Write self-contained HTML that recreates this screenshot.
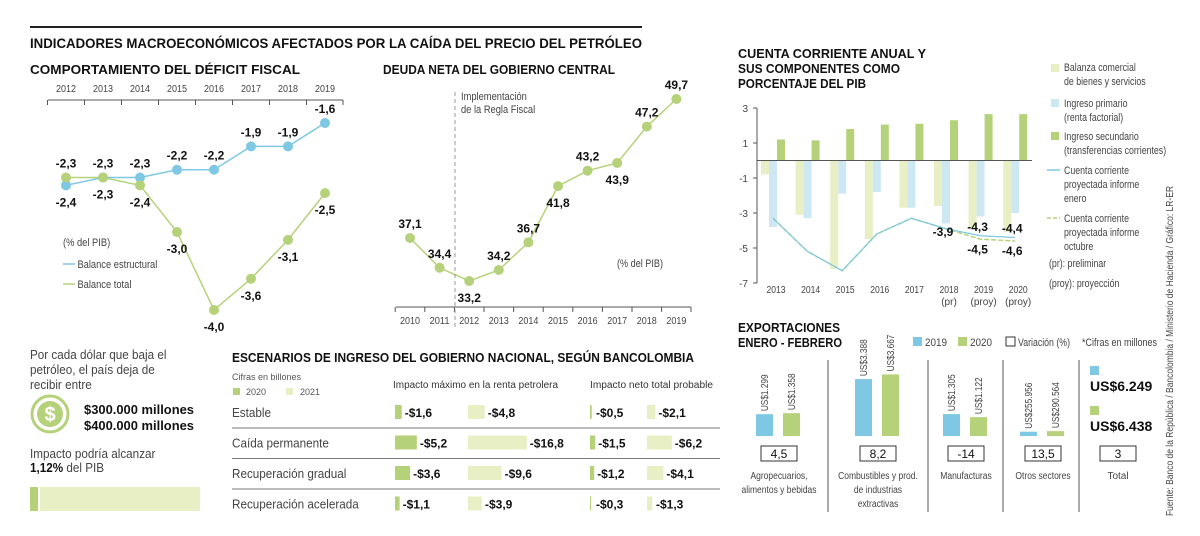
<!DOCTYPE html>
<html><head><meta charset="utf-8"><style>
body{margin:0;background:#fff;}
svg{display:block;font-family:"Liberation Sans",sans-serif;}
.t{font-weight:bold;font-size:13px;fill:#111;}
.lb{font-size:11px;fill:#444;}
.v{font-weight:bold;font-size:12px;fill:#111;}
</style></head><body>
<svg id="s" width="1200" height="536" viewBox="0 0 1200 536">
<line x1="30" y1="27" x2="642" y2="27" stroke="#222" stroke-width="2"/>
<text x="30" y="48" class="t" style="font-size:14px" textLength="612" lengthAdjust="spacingAndGlyphs">INDICADORES MACROECONÓMICOS AFECTADOS POR LA CAÍDA DEL PRECIO DEL PETRÓLEO</text>
<text x="30" y="74" class="t" textLength="270" lengthAdjust="spacingAndGlyphs">COMPORTAMIENTO DEL DÉFICIT FISCAL</text>
<text x="383" y="74" class="t" textLength="232" lengthAdjust="spacingAndGlyphs">DEUDA NETA DEL GOBIERNO CENTRAL</text>
<g><text x="738" y="58" class="t" textLength="188" lengthAdjust="spacingAndGlyphs">CUENTA CORRIENTE ANUAL Y</text><text x="738" y="73" class="t" textLength="162" lengthAdjust="spacingAndGlyphs">SUS COMPONENTES COMO</text><text x="738" y="88" class="t" textLength="128" lengthAdjust="spacingAndGlyphs">PORCENTAJE DEL PIB</text></g>
<g><text x="738" y="332" class="t" textLength="102" lengthAdjust="spacingAndGlyphs">EXPORTACIONES</text><text x="738" y="347" class="t" textLength="104" lengthAdjust="spacingAndGlyphs">ENERO - FEBRERO</text></g>
<g id="g1"></g><g id="g2"></g><g id="g3"></g><g id="g4"></g><g id="g5"></g>
<g transform="translate(63,0) scale(0.85,1) translate(-63,0)">
<text x="63" y="246" class="lb">(% del PIB)</text>
<line x1="63" y1="264" x2="77" y2="264" stroke="#7ec8e3" stroke-width="1.5"/><text x="80" y="268" class="lb">Balance estructural</text>
<line x1="63" y1="284" x2="77" y2="284" stroke="#b5d27a" stroke-width="1.5"/><text x="80" y="288" class="lb">Balance total</text></g>
<g>
<line x1="455" y1="92" x2="455" y2="328" stroke="#999" stroke-dasharray="4,3"/>
<g transform="translate(461,0) scale(0.85,1) translate(-461,0)"><text x="461" y="100" class="lb">Implementación</text><text x="461" y="113" class="lb">de la Regla Fiscal</text></g>
<text x="617" y="267" class="lb" textLength="46" lengthAdjust="spacingAndGlyphs">(% del PIB)</text></g>
<g class="lb">
<rect x="1051" y="64" width="8" height="8" fill="#e8efc4"/><rect x="1051" y="99" width="8" height="8" fill="#cde8f3"/><rect x="1051" y="132" width="8" height="8" fill="#b5d27a"/>
<line x1="1047" y1="170" x2="1060" y2="170" stroke="#7ec8e3" stroke-width="1.5"/>
<line x1="1047" y1="218" x2="1060" y2="218" stroke="#b5d27a" stroke-width="1.5" stroke-dasharray="4,2"/>
<g transform="translate(1064,0) scale(0.8,1) translate(-1064,0)">
<text x="1064" y="71">Balanza comercial</text><text x="1064" y="85">de bienes y servicios</text>
<text x="1064" y="107">Ingreso primario</text><text x="1064" y="121">(renta factorial)</text>
<text x="1064" y="140">Ingreso secundario</text><text x="1064" y="154">(transferencias corrientes)</text>
<text x="1064" y="174">Cuenta corriente</text><text x="1064" y="188">proyectada informe</text><text x="1064" y="202">enero</text>
<text x="1064" y="222">Cuenta corriente</text><text x="1064" y="236">proyectada informe</text><text x="1064" y="250">octubre</text></g>
<g transform="translate(1049,0) scale(0.8,1) translate(-1049,0)">
<text x="1049" y="267">(pr): preliminar</text><text x="1049" y="287">(proy): proyección</text></g></g>
<g class="lb">
<rect x="913" y="337" width="9" height="9" fill="#7ec8e3"/><text x="925" y="346" textLength="22" lengthAdjust="spacingAndGlyphs">2019</text>
<rect x="958" y="337" width="9" height="9" fill="#b5d27a"/><text x="970" y="346" textLength="22" lengthAdjust="spacingAndGlyphs">2020</text>
<rect x="1006" y="337" width="9" height="9" fill="#fff" stroke="#333"/><text x="1018" y="346" textLength="52" lengthAdjust="spacingAndGlyphs">Variación (%)</text>
<text x="1082" y="346" textLength="75" lengthAdjust="spacingAndGlyphs">*Cifras en millones</text></g>
<text transform="translate(1173,516) rotate(-90)" font-size="10" fill="#444" textLength="330" lengthAdjust="spacingAndGlyphs">Fuente: Banco de la República / Bancolombia / Ministerio de Hacienda / Gráfico: LR-ER</text>
<g>
<g transform="translate(30,0) scale(0.9,1) translate(-30,0)">
<text x="30" y="359" font-size="13" fill="#444">Por cada dólar que baja el</text>
<text x="30" y="374" font-size="13" fill="#444">petróleo, el país deja de</text>
<text x="30" y="389" font-size="13" fill="#444">recibir entre</text>
<text x="30" y="458" font-size="13" fill="#444">Impacto podría alcanzar</text>
<text x="30" y="472" font-size="13" fill="#444"><tspan font-weight="bold" fill="#111">1,12%</tspan> del PIB</text></g>
<circle cx="50" cy="414" r="18" fill="none" stroke="#b5d27a" stroke-width="3"/><circle cx="50" cy="414" r="13" fill="#b5d27a"/>
<text x="50" y="421" text-anchor="middle" font-size="20" font-weight="bold" fill="#fff">$</text>
<text x="84" y="414" class="v" style="font-size:13px" textLength="110" lengthAdjust="spacingAndGlyphs">$300.000 millones</text><text x="84" y="430" class="v" style="font-size:13px" textLength="110" lengthAdjust="spacingAndGlyphs">$400.000 millones</text>
<rect x="30" y="487" width="8" height="24" fill="#b5d27a"/><rect x="40" y="487" width="160" height="24" fill="#e8efc4"/></g>
<g>
<text x="232" y="362" class="t" textLength="462" lengthAdjust="spacingAndGlyphs">ESCENARIOS DE INGRESO DEL GOBIERNO NACIONAL, SEGÚN BANCOLOMBIA</text>
<text x="232" y="380" font-size="9" fill="#555">Cifras en billones</text>
<rect x="233" y="388" width="7" height="7" fill="#b5d27a"/><text x="246" y="395" font-size="9" fill="#555">2020</text>
<rect x="286" y="388" width="7" height="7" fill="#e8efc4"/><text x="300" y="395" font-size="9" fill="#555">2021</text>
<text x="393" y="388" font-size="10" fill="#333" textLength="165" lengthAdjust="spacingAndGlyphs">Impacto máximo en la renta petrolera</text>
<text x="590" y="388" font-size="10" fill="#333" textLength="123" lengthAdjust="spacingAndGlyphs">Impacto neto total probable</text></g>
</svg>
<script>
const NS="http://www.w3.org/2000/svg";
function mk(p,t,a,txt){const e=document.createElementNS(NS,t);for(const k in a)e.setAttribute(k,a[k]);if(txt!==undefined)e.textContent=txt;p.appendChild(e);return e;}
const BLUE="#7ec8e3",GREEN="#b5d27a",LY="#e8efc4",LB="#cde8f3";
// ---- Chart 1: déficit fiscal
const defYears=["2012","2013","2014","2015","2016","2017","2018","2019"];
const defEstructural=[-2.4,-2.3,-2.3,-2.2,-2.2,-1.9,-1.9,-1.6];
const defTotal=[-2.3,-2.3,-2.4,-3.0,-4.0,-3.6,-3.1,-2.5];
(function(){const g=document.getElementById('g1');
const x=i=>66+i*37,y=v=>123+(-1.6-v)*77.9;
mk(g,'line',{x1:48,y1:100,x2:343,y2:100,stroke:'#555'});
defYears.forEach((yr,i)=>{const t=mk(g,'text',{x:x(i),y:92,'text-anchor':'middle','font-size':10,fill:'#444',textLength:20,lengthAdjust:'spacingAndGlyphs'},yr);

mk(g,'line',{x1:x(i)-18.5,y1:100,x2:x(i)-18.5,y2:105,stroke:'#555'});});
mk(g,'line',{x1:343,y1:100,x2:343,y2:105,stroke:'#555'});
[[defEstructural,BLUE,'estructural'],[defTotal,GREEN,'total']].forEach(([d,c,n])=>{
const l=mk(g,'polyline',{points:d.map((v,i)=>x(i)+','+y(v)).join(' '),fill:'none',stroke:c,'stroke-width':1.5});

d.forEach((v,i)=>{const p=mk(g,'circle',{cx:x(i),cy:y(v),r:5,fill:c});

const o=d===defEstructural?(v>=defTotal[i]?-1:1):(v>defEstructural[i]?-1:1);
const t=mk(g,'text',{x:x(i),y:y(v)+(o<0?-10:21),'text-anchor':'middle',class:'v'},v.toFixed(1).replace('.',','));
});});
})();
// ---- Chart 2: deuda
const debtYears=["2010","2011","2012","2013","2014","2015","2016","2017","2018","2019"];
const debtValues=[37.1,34.4,33.2,34.2,36.7,41.8,43.2,43.9,47.2,49.7];
const debtLabelBelow=[false,false,true,false,false,true,false,true,false,false];
(function(){const g=document.getElementById('g2');
const x=i=>410+i*29.6,y=v=>99+(49.7-v)*11.03;
mk(g,'line',{x1:396,y1:307,x2:691,y2:307,stroke:'#555'});
debtYears.forEach((yr,i)=>{const t=mk(g,'text',{x:x(i),y:324,'text-anchor':'middle','font-size':10,fill:'#444',textLength:20,lengthAdjust:'spacingAndGlyphs'},yr);

mk(g,'line',{x1:x(i)-14.8,y1:307,x2:x(i)-14.8,y2:312,stroke:'#555'});});
mk(g,'line',{x1:691,y1:307,x2:691,y2:312,stroke:'#555'});
const l=mk(g,'polyline',{points:debtValues.map((v,i)=>x(i)+','+y(v)).join(' '),fill:'none',stroke:GREEN,'stroke-width':1.5});

debtValues.forEach((v,i)=>{const p=mk(g,'circle',{cx:x(i),cy:y(v),r:5,fill:GREEN});

const t=mk(g,'text',{x:x(i),y:y(v)+(debtLabelBelow[i]?21:-10),'text-anchor':'middle',class:'v'},v.toFixed(1).replace('.',','));
});
})();
// ---- Chart 3: cuenta corriente
const ccYears=["2013","2014","2015","2016","2017","2018","2019","2020"];
const ccSub=["","","","","","(pr)","(proy)","(proy)"];
const ccBalanza=[-0.8,-3.1,-6.2,-4.5,-2.7,-2.6,-3.9,-4.1];
const ccPrimario=[-3.8,-3.3,-1.9,-1.8,-2.7,-3.6,-3.2,-3.0];
const ccSecundario=[1.2,1.15,1.8,2.05,2.1,2.3,2.65,2.65];
const ccEnero=[-3.3,-5.2,-6.3,-4.2,-3.3,-3.9,-4.3,-4.4];
const ccOctubre=[-3.3,-5.2,-6.3,-4.2,-3.3,-3.9,-4.5,-4.6];
const ccTicks=[3,1,-1,-3,-5,-7];
(function(){const g=document.getElementById('g3');
const x=i=>776+i*34.6,y=v=>160.5-v*17.5;
ccTicks.forEach(t=>{const e=mk(g,'text',{x:748,y:y(t)+4,'text-anchor':'end','font-size':10,fill:'#444'},t);

mk(g,'line',{x1:753,y1:y(t),x2:757,y2:y(t),stroke:'#555'});});
mk(g,'line',{x1:757,y1:y(3),x2:757,y2:y(-7),stroke:'#555'});
[[ccBalanza,LY,-15],[ccPrimario,LB,-7],[ccSecundario,GREEN,1]].forEach(([d,c,o],k)=>{
d.forEach((v,i)=>{const r=mk(g,'rect',{x:x(i)+o,y:Math.min(y(v),y(0)),width:8,height:Math.abs(y(v)-y(0)),fill:c});
});});
mk(g,'line',{x1:757,y1:y(0),x2:1032,y2:y(0),stroke:'#555'});
const l1=mk(g,'polyline',{points:ccOctubre.map((v,i)=>(x(i)-3)+','+y(v)).join(' '),fill:'none',stroke:GREEN,'stroke-width':1.5,'stroke-dasharray':'5,2'});

const l2=mk(g,'polyline',{points:ccEnero.map((v,i)=>(x(i)-3)+','+y(v)).join(' '),fill:'none',stroke:BLUE,'stroke-width':1.2});

ccYears.forEach((yr,i)=>{const t=mk(g,'text',{x:x(i),y:293,'text-anchor':'middle','font-size':10,fill:'#444',textLength:19,lengthAdjust:'spacingAndGlyphs'},yr);

if(ccSub[i]){const s=mk(g,'text',{x:x(i),y:305,'text-anchor':'middle','font-size':10,fill:'#444'},ccSub[i]);
}});
const lab=(i,v,dy)=>{const t=mk(g,'text',{x:x(i)-6,y:y(v)+dy,'text-anchor':'middle',class:'v'},v.toFixed(1).replace('.',','));
};
lab(5,ccEnero[5],7);lab(6,ccEnero[6],-5);lab(7,ccEnero[7],-5);lab(6,ccOctubre[6],14);lab(7,ccOctubre[7],14);
})();
// ---- Chart 4: exportaciones
const expSectors=[["Agropecuarios,","alimentos y bebidas"],["Combustibles y prod.","de industrias","extractivas"],["Manufacturas"],["Otros sectores"]];
const exp2019=[1299,3388,1305,255.956];
const exp2020=[1358,3667,1122,290.564];
const exp2019Labels=["US$1.299","US$3.388","US$1.305","US$255.956"];
const exp2020Labels=["US$1.358","US$3.667","US$1.122","US$290.564"];
const expVariation=["4,5","8,2","-14","13,5","3"];
const expTotals=["US$6.249","US$6.438"];
(function(){const g=document.getElementById('g4');
const cx=[779,878,966,1043,1118],base=436,h=v=>v*0.0168;
[828,928,1003,1079].forEach(sx=>mk(g,'line',{x1:sx,y1:360,x2:sx,y2:512,stroke:'#555'}));
exp2019.forEach((v,i)=>{[[v,BLUE,-23,exp2019Labels[i]],[exp2020[i],GREEN,4,exp2020Labels[i]]].forEach(([val,c,o,lb],k)=>{
const r=mk(g,'rect',{x:cx[i]+o,y:base-Math.max(h(val),3),width:17,height:Math.max(h(val),3),fill:c});

const tx=cx[i]+o+12,ty=base-Math.max(h(val),3)-3;
const t=mk(g,'text',{transform:`translate(${tx},${ty}) rotate(-90)`,'font-size':10,fill:'#444',textLength:lb.length*4.6,lengthAdjust:'spacingAndGlyphs'},lb);
});
expSectors[i].forEach((s,j)=>{const t=mk(g,'text',{x:cx[i],y:479+j*14,'text-anchor':'middle','font-size':10,fill:'#444',transform:`translate(${cx[i]},0) scale(0.85,1) translate(${-cx[i]},0)`},s);
});});
expVariation.forEach((v,i)=>{mk(g,'rect',{x:cx[i]-18,y:446,width:36,height:15,fill:'#fff',stroke:'#333'});
const t=mk(g,'text',{x:cx[i],y:458,'text-anchor':'middle','font-size':12,fill:'#111'},v);
});
const tl=mk(g,'text',{x:1118,y:479,'text-anchor':'middle','font-size':10,fill:'#444'},'Total');

mk(g,'rect',{x:1090,y:366,width:9,height:9,fill:BLUE});mk(g,'rect',{x:1090,y:406,width:9,height:9,fill:GREEN});
expTotals.forEach((v,i)=>{const t=mk(g,'text',{x:1090,y:391+i*40,class:'v',style:'font-size:14px'},v);
});
})();
// ---- Chart 5: escenarios
const scnNames=["Estable","Caída permanente","Recuperación gradual","Recuperación acelerada"];
const maxImp2020=[1.6,5.2,3.6,1.1];
const maxImp2021=[4.8,16.8,9.6,3.9];
const netImp2020=[0.5,1.5,1.2,0.3];
const netImp2021=[2.1,6.2,4.1,1.3];
(function(){const g=document.getElementById('g5');
const cols=[[maxImp2020,395,4.2,GREEN,'max-2020'],[maxImp2021,468,3.5,LY,'max-2021'],[netImp2020,590,3.5,GREEN,'net-2020'],[netImp2021,647,4,LY,'net-2021']];
scnNames.forEach((n,i)=>{const cy=412+i*30.5;
const t=mk(g,'text',{x:232,y:cy+5,'font-size':13,fill:'#444',transform:'translate(232,0) scale(0.9,1) translate(-232,0)'},n);

if(i<3)mk(g,'line',{x1:232,y1:cy+16,x2:720,y2:cy+16,stroke:'#777'});
cols.forEach(([d,x0,s,c,nm])=>{const w=d[i]*s;
const r=mk(g,'rect',{x:x0,y:cy-7,width:w,height:14,fill:c});

const v=mk(g,'text',{x:x0+Math.max(w,nm=='max-2021'?14:(nm=='net-2021'?6:3))+3,y:cy+5,class:'v'},'-$'+d[i].toFixed(1).replace('.',','));
});});
})();
</script>
</body></html>
